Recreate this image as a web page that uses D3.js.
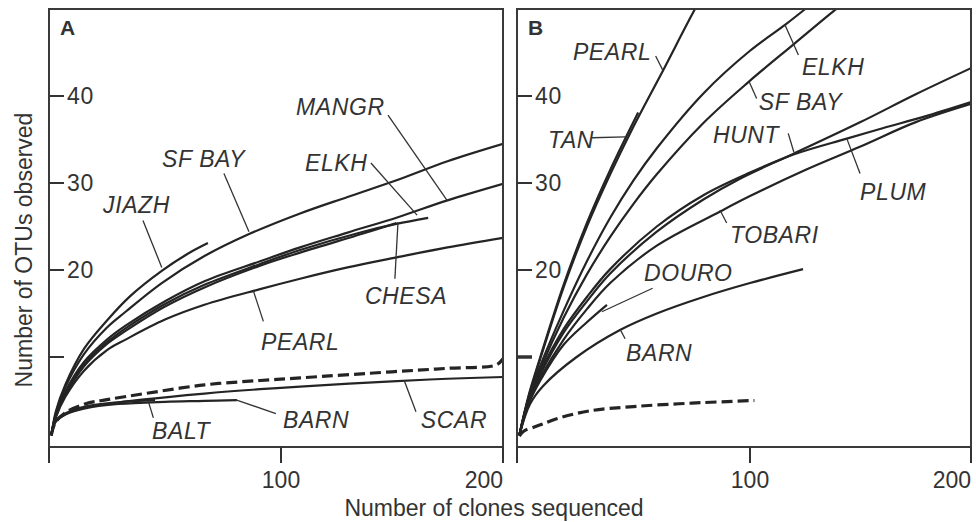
<!DOCTYPE html>
<html><head><meta charset="utf-8">
<script src="https://cdn.jsdelivr.net/npm/d3@7"></script>
<style>
body{margin:0;background:#fff}
svg{display:block}
text{font-family:"Liberation Sans",Arial,sans-serif;fill:#333}
</style>
</head><body>
<svg id="c" width="976" height="522"></svg>
<script>
// ---------- axis values ----------
const xTicks = [0, 100, 200];
const xTickLabels = ["", "100", "200"];
const yTicks = [10, 20, 30, 40];
const yTickLabels = ["", "20", "30", "40"];
const xTitle = "Number of clones sequenced";
const yTitle = "Number of OTUs observed";

// ---------- panel A series [clones, OTUs] ----------
const aJIAZH = [[1,1],[3,3.8],[7,6.8],[15,10.9],[25,14.2],[35,17],[48.6,19.9],[60,21.9],[68.5,23.1]];
const aSFBAY = [[1,1],[3,3.6],[7,6.5],[15,10.3],[25,13.4],[33,15.2],[48.6,18.5],[67,21.6],[86,24.1],[108.6,26.5],[130,28.4],[153,30.4],[175,32.5],[200,34.5]];
const aMANGR = [[1,1],[3,3.4],[7,6.0],[15,9.4],[25,12],[33,13.6],[50,16.4],[67,18.7],[91,21.0],[108.6,22.6],[130,24.3],[153,26.1],[175,28.0],[200,29.9]];
const aELKH  = [[1,1],[3,3.3],[7,5.8],[15,9.1],[25,11.7],[33,13.3],[50,16.1],[67,18.3],[91,20.7],[108.6,22.3],[137,24.4],[152,25.3],[166.3,26.0]];
const aCHESA = [[1,1],[3,3.2],[7,5.6],[15,8.9],[25,11.5],[33,13.0],[50,15.8],[67,18.0],[91,20.5],[108.6,22.0],[137,24.2],[152,25.4]];
const aPEARL = [[1,1],[3,3.1],[7,5.4],[15,8.4],[25,10.8],[33,12.0],[50,14.3],[67,16.0],[91,17.8],[108.6,19.0],[130,20.3],[153,21.5],[175,22.6],[200,23.7]];
const aDASHED = [[1,1],[2.6,2.4],[7,3.6],[15.5,4.6],[25,5.1],[41.4,5.8],[67,6.8],[91,7.3],[108.6,7.6],[150,8.3],[175,8.7],[197,9.1],[200,9.8]];
const aSCAR  = [[1,1],[2.6,2.5],[7,3.4],[15.5,4.2],[25,4.6],[40,5.1],[67,5.8],[91,6.3],[108.6,6.6],[150,7.2],[175,7.5],[200,7.7]];
const aBARN  = [[1,1],[3,2.6],[7,3.4],[15.5,4.1],[30,4.6],[50,4.85],[67,4.95],[81,5.05]];
const aBALT  = [[1,1],[3,2.7],[7,3.5],[15.5,4.3],[30,4.8],[45.7,5.05]];

// ---------- panel B series ----------
const bPEARL  = [[1,1],[5,5.4],[10,9.8],[20,18],[30,25],[40,31],[50,36.5],[62.8,43],[76.4,50],[85,54]];
const bTAN    = [[1,1],[5,5.6],[10,10],[20,18.3],[30,25.4],[40,31.5],[52,38.1]];
const bELKH   = [[1,1],[5,5.3],[10,9],[20,15.3],[30,21],[40,26],[50,30.3],[60,34],[80,40.3],[100,45.2],[116,48.2],[124,49.8],[135,52]];
const bSFBAY  = [[1,1],[5,5.1],[10,8.6],[20,14.5],[30,19.5],[40,23.8],[50,27.6],[60,31],[80,36.9],[99.3,41.6],[120,46],[138.5,49.9],[150,52.2]];
const bHUNT   = [[1,1],[5,5],[10,8],[20,12.8],[30,16.4],[40,19.6],[60,24.4],[80,28.1],[95.7,30.5],[120,33.4],[150,37],[175,40.2],[200,43.2]];
const bPLUM   = [[1,1],[5,5.2],[10,8.3],[20,13.2],[30,16.9],[40,20.1],[60,25],[80,28.6],[100,31.2],[120,33.3],[143.8,35.1],[160,36.3],[178.5,37.6],[200,39.3]];
const bTOBARI = [[1,1],[5,4.8],[10,7.6],[20,12],[30,15.5],[40,18.5],[60,22.8],[87,26.7],[100,28.5],[125,31.5],[150,34.2],[175,37],[200,39.1]];
const bDOURO  = [[1,1],[5,4.6],[10,7.3],[20,11.4],[30,14],[38.6,16]];
const bBARN   = [[1,1],[5.6,4.6],[11.3,6.7],[25.6,10],[44.2,13.1],[60,15],[80,16.9],[100,18.5],[124,20.1]];
const bDASHED = [[1,0.9],[3,1.5],[8,2.0],[11,2.3],[17,2.9],[31,3.8],[50,4.3],[75,4.7],[102,5.0]];

// ---------- curve labels: text, anchor (data units), leader from -> to (data units) ----------
const labelsA = [
  ["JIAZH", 23.3, 26.5, 40.5, 25.7, 48.6, 20.3],
  ["SF BAY", 48.7, 31.8, 75.4, 31.1, 86.2, 24.4],
  ["MANGR", 106.8, 37.8, 148.2, 37.8, 174.8, 28.0],
  ["ELKH", 110.8, 31.4, 140.5, 32.3, 161.3, 26.3],
  ["CHESA", 137.8, 16.1, 151.3, 19.0, 152.7, 25.5],
  ["PEARL", 91.4, 10.8, 92.4, 14.1, 88.1, 17.6],
  ["BALT", 44.4, 0.6, 45.0, 3.0, 42.8, 4.9],
  ["BARN", 100.9, 1.8, 97.8, 3.5, 80.9, 5.05],
  ["SCAR", 163, 1.8, 160.8, 3.7, 155.5, 7.3]
];
const labelsB = [
  ["PEARL", 24, 44.1, 59.5, 44.6, 62.5, 43],
  ["TAN", 13.3, 34, 32.2, 35.2, 46.4, 35.3],
  ["ELKH", 123.5, 42.4, 121.9, 44.7, 115.8, 48.2],
  ["SF BAY", 104, 38.4, 103, 39.7, 99.7, 41.6],
  ["HUNT", 84.1, 34.6, 117.3, 35.7, 119.9, 33.5],
  ["PLUM", 149.8, 28, 149.8, 31.1, 143.8, 35.1],
  ["TOBARI", 91.4, 23.1, 90, 25.4, 87.1, 26.9],
  ["DOURO", 54.5, 18.7, 58.2, 17.9, 36.4, 15.2],
  ["BARN", 46.8, 9.5, 46.4, 12.1, 44.2, 13.2]
];

// ---------- drawing ----------
const svg = d3.select("#c");
const defs = svg.append("defs");
const plotTop = 9, plotBottom = 447;
const y = d3.scaleLinear().domain([0, 50]).range([444, 9]);
const FONT = 23;

function panel(id, letter, xRange, solid, dashed, labels, boldTen) {
  const left = xRange[0], right = xRange[2];
  const x = d3.scaleLinear().domain(xTicks).range(xRange);
  defs.append("clipPath").attr("id", id).append("rect")
    .attr("x", left).attr("y", plotTop).attr("width", right - left).attr("height", plotBottom - plotTop);
  const g = svg.append("g");

  const line = d3.line().x(d => x(d[0])).y(d => y(d[1])).curve(d3.curveCatmullRom.alpha(0.5));
  const lg = g.append("g").attr("clip-path", `url(#${id})`);
  solid.forEach(s => lg.append("path").attr("d", line(s)).attr("fill", "none")
    .attr("stroke", "#242424").attr("stroke-width", 2.2).attr("stroke-linejoin", "round"));
  lg.append("path").attr("d", line(dashed)).attr("fill", "none")
    .attr("stroke", "#242424").attr("stroke-width", 3.2).attr("stroke-dasharray", "11,5");

  // frame
  g.append("rect").attr("x", left).attr("y", plotTop).attr("width", right - left).attr("height", plotBottom - plotTop)
    .attr("fill", "none").attr("stroke", "#3a3a3a").attr("stroke-width", 2);

  // y ticks (inside)
  yTicks.forEach((t, i) => {
    g.append("line").attr("x1", left).attr("x2", left + 15).attr("y1", y(t)).attr("y2", y(t))
      .attr("stroke", "#333").attr("stroke-width", (boldTen && t === 10) ? 3.5 : 2);
    if (yTickLabels[i]) g.append("text").attr("x", left + 18).attr("y", y(t)).attr("dy", "0.35em")
      .attr("font-size", FONT).attr("letter-spacing", 0.8).text(yTickLabels[i]);
  });
  // x ticks (outside)
  xTicks.forEach((t, i) => {
    g.append("line").attr("x1", x(t)).attr("x2", x(t)).attr("y1", plotBottom).attr("y2", plotBottom + 16)
      .attr("stroke", "#333").attr("stroke-width", 2);
    if (xTickLabels[i]) g.append("text").attr("x", x(t)).attr("y", 488)
      .attr("text-anchor", i === xTicks.length - 1 ? "end" : "middle")
      .attr("font-size", FONT).text(xTickLabels[i]);
  });

  // panel letter
  g.append("text").attr("x", x(0) + 11).attr("y", 35).attr("font-size", 21).attr("font-weight", "bold")
    .attr("fill", "#222").text(letter);

  // labels + leaders
  labels.forEach(l => {
    g.append("line").attr("x1", x(l[3])).attr("y1", y(l[4])).attr("x2", x(l[5])).attr("y2", y(l[6]))
      .attr("stroke", "#333").attr("stroke-width", 1.3);
    g.append("text").attr("x", x(l[1])).attr("y", y(l[2])).attr("font-size", FONT)
      .attr("font-style", "italic").attr("letter-spacing", 0.6).text(l[0]);
  });
}

panel("clipA", "A", [49, 281, 503],
  [aJIAZH, aSFBAY, aMANGR, aELKH, aCHESA, aPEARL, aSCAR, aBARN, aBALT], aDASHED, labelsA, false);
panel("clipB", "B", [517, 750, 971],
  [bPEARL, bTAN, bELKH, bSFBAY, bHUNT, bPLUM, bTOBARI, bDOURO, bBARN], bDASHED, labelsB, true);

// axis titles
svg.append("text").attr("x", 494).attr("y", 516).attr("text-anchor", "middle")
  .attr("font-size", FONT).text(xTitle);
svg.append("text").attr("transform", "translate(32,250) rotate(-90)").attr("text-anchor", "middle")
  .attr("font-size", FONT).text(yTitle);
</script>
</body></html>
